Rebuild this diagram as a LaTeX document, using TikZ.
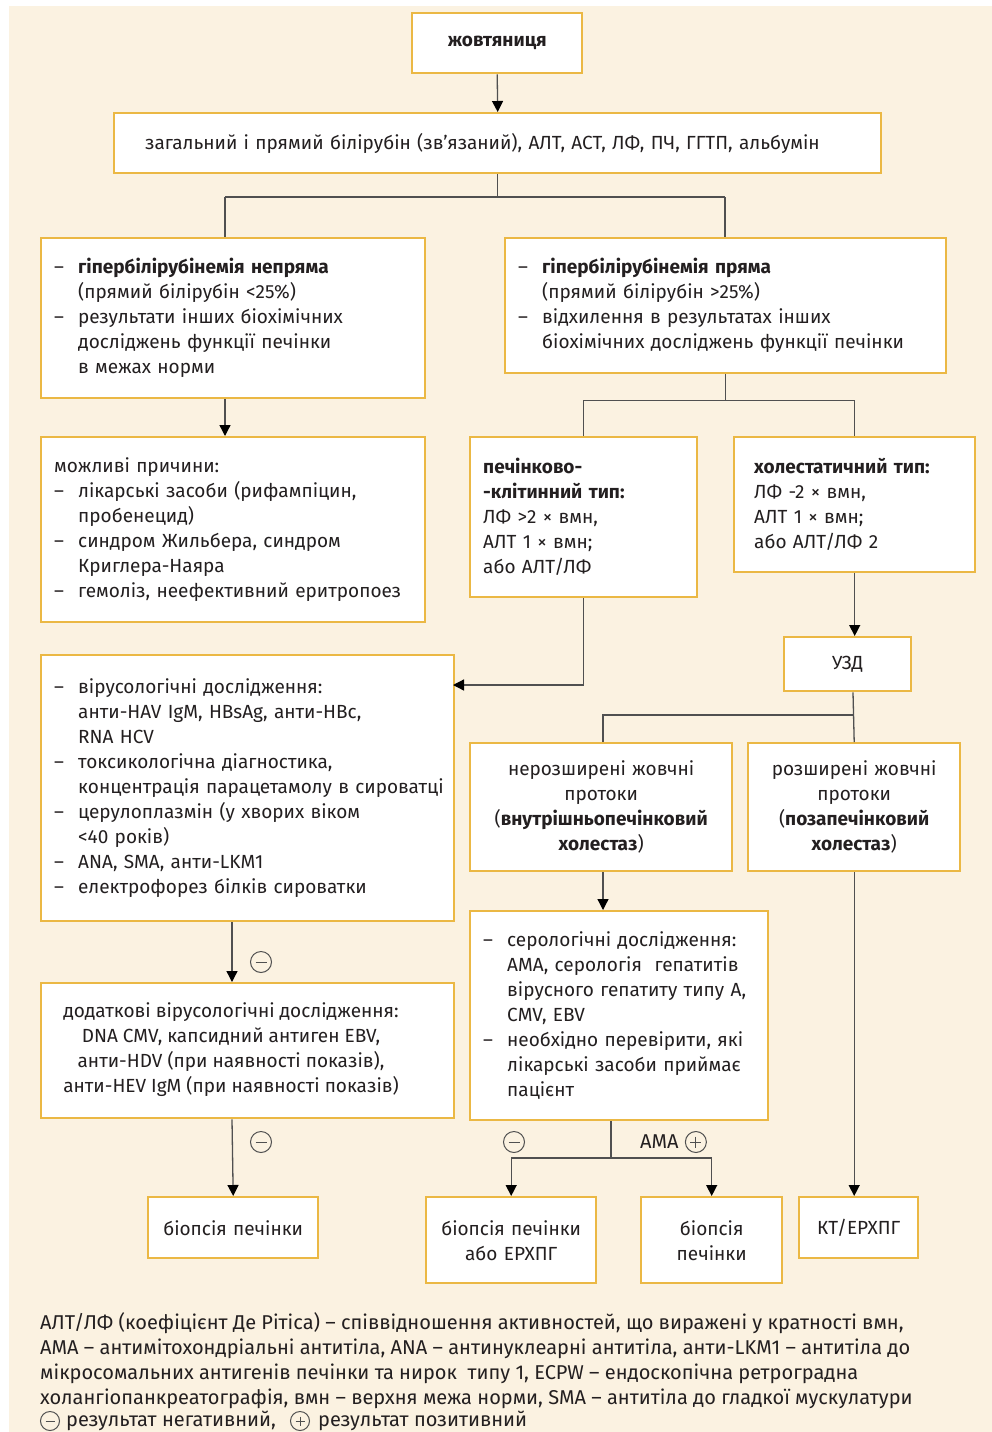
\documentclass[tikz,border=0pt]{standalone}
\usepackage{fontspec}
\setmainfont{Fira Sans}
\usetikzlibrary{arrows.meta, positioning}

\definecolor{boxedge}{HTML}{EBB844}
\definecolor{cream}{HTML}{FBF2E1}
\definecolor{linkgray}{HTML}{505050}
\definecolor{inkdark}{HTML}{231F20}

\newcommand{\dashline}{\makebox[24pt][l]{–}}
\newcommand{\dashgap}{\hspace*{24pt}}

\begin{document}
\begin{tikzpicture}[x = 1pt, y = -1pt, text = inkdark,
  box/.style = {draw = boxedge, line width = 2.4pt, fill = white, inner xsep = 13pt, inner ysep = 0pt,
                anchor = north west, font = \fontsize{19}{25}\selectfont},
  leftbox/.style = {box, align = left},
  midbox/.style = {box, align = center},
  link/.style = {draw = linkgray, line width = 1.3pt},
  arrow/.style = {link, -{Triangle[width = 11pt, length = 11pt, color = black]}},
  signminus/.style = {circle, draw = linkgray, line width = 1pt, minimum size = 21pt, inner sep = 0pt,
    path picture = {\draw[linkgray, line width = 1pt] ([xshift = 5pt]path picture bounding box.west)
                    -- ([xshift = -5pt]path picture bounding box.east);}},
  signplus/.style = {circle, draw = linkgray, line width = 1pt, minimum size = 21pt, inner sep = 0pt,
    path picture = {\draw[linkgray, line width = 1pt] ([xshift = 5pt]path picture bounding box.west)
                    -- ([xshift = -5pt]path picture bounding box.east);
                    \draw[linkgray, line width = 1pt] ([yshift = -5pt]path picture bounding box.north)
                    -- ([yshift = 5pt]path picture bounding box.south);}},
  note/.style = {inner sep = 0pt, font = \fontsize{20}{25}\selectfont}
]
\useasboundingbox (0, 0) rectangle (992, 1432);
\fill[white] (0, 0) rectangle (992, 1432);
\fill[cream] (9, 6) rectangle (992, 1432);

\node[midbox, text width = 144pt, minimum height = 60pt] (jaundice) at (411, 12){\textbf{жовтяниця}};
\node[leftbox, inner xsep = 31pt, text width = 705pt, minimum height = 60pt] (panel) at (113, 112)
  {загальний і прямий білірубін (зв’язаний), АЛТ, АСТ, ЛФ, ПЧ, ГГТП, альбумін};

\node[leftbox, text width = 358pt, minimum height = 160pt] (hypo) at (40, 237)
  {\dashline\textbf{гіпербілірубінемія непряма}\\
   \dashgap(прямий білірубін <25\%)\\
   \dashline результати інших біохімічних\\
   \dashgap досліджень функції печінки\\
   \dashgap в межах норми};
\node[leftbox, text width = 415pt, minimum height = 135pt] (hyper) at (504, 237)
  {\dashline\textbf{гіпербілірубінемія пряма}\\
   \dashgap(прямий білірубін >25\%)\\
   \dashline відхилення в результатах інших\\
   \dashgap біохімічних досліджень функції печінки};

\node[leftbox, text width = 358pt, minimum height = 185pt] (causes) at (40, 436)
  {можливі причини:\\
   \dashline лікарські засоби (рифампіцин,\\
   \dashgap пробенецид)\\
   \dashline синдром Жильбера, синдром\\
   \dashgap Криглера-Наяра\\
   \dashline гемоліз, неефективний еритропоез};
\node[leftbox, text width = 201pt, minimum height = 160pt] (hepato) at (469, 436)
  {\textbf{печінково-}\\
   \textbf{-клітинний тип:}\\
   ЛФ >2 × вмн,\\
   АЛТ 1 × вмн;\\
   або АЛТ/ЛФ};
\node[leftbox, inner xsep = 20pt, text width = 201pt, minimum height = 135pt] (chole) at (733, 436)
  {\textbf{холестатичний тип:}\\
   ЛФ -2 × вмн,\\
   АЛТ 1 × вмн;\\
   або АЛТ/ЛФ 2};
\node[midbox, text width = 101pt, minimum height = 54pt] (usg) at (783, 636){УЗД};

\node[leftbox, text width = 387pt, minimum height = 266pt] (viral) at (40, 654)
  {\dashline вірусологічні дослідження:\\
   \dashgap анти-HAV IgM, HBsAg, анти-HBc,\\
   \dashgap RNA HCV\\
   \dashline токсикологічна діагностика,\\
   \dashgap\mbox{концентрація парацетамолу в сироватці}\\
   \dashline церулоплазмін (у хворих віком\\
   \dashgap <40 років)\\
   \dashline ANA, SMA, анти-LKM1\\
   \dashline електрофорез білків сироватки};
\node[midbox, inner xsep = 5pt, text width = 252pt, minimum height = 128pt] (nondil) at (469, 742)
  {нерозширені жовчні\\
   протоки\\
   (\textbf{внутрішньопечінковий}\\
   \textbf{холестаз})};
\node[midbox, inner xsep = 5pt, text width = 202pt, minimum height = 128pt] (dil) at (747, 742)
  {розширені жовчні\\
   протоки\\
   (\textbf{позапечінковий}\\
   \textbf{холестаз})};

\node[leftbox, text width = 272pt, minimum height = 209pt] (sero) at (469, 910)
  {\dashline серологічні дослідження:\\
   \dashgap AMA, серологія\ \ гепатитів\\
   \dashgap вірусного гепатиту типу A,\\
   \dashgap CMV, EBV\\
   \dashline необхідно перевірити, які\\
   \dashgap лікарські засоби приймає\\
   \dashgap пацієнт};
\node[box, minimum width = 413pt, minimum height = 135pt] (extra) at (40, 982){};
\node[align = center, inner sep = 0pt, font = \fontsize{19}{25}\selectfont] (extratext) at (231, 1049.5)
  {додаткові вірусологічні дослідження:\\
   DNA CMV, капсидний антиген EBV,\\
   анти-HDV (при наявності показів),\\
   анти-HEV IgM (при наявності показів)};

\node[midbox, inner xsep = 5pt, text width = 160pt, minimum height = 61pt] (biopsyA) at (147, 1196){біопсія печінки};
\node[midbox, inner xsep = 5pt, text width = 160pt, minimum height = 86pt] (biopsyB) at (425, 1196)
  {біопсія печінки\\ або ЕРХПГ};
\node[midbox, inner xsep = 5pt, text width = 131pt, minimum height = 86pt] (biopsyC) at (640, 1196)
  {біопсія\\ печінки};
\node[midbox, inner xsep = 5pt, text width = 109pt, minimum height = 61pt] (ctercp) at (798, 1196){КТ/ЕРХПГ};

\coordinate (forkL) at (225, 197);
\coordinate (forkR) at (725, 197);
\coordinate (viralIn) at (453, 685);
\coordinate (usgFork) at (853, 715);
\coordinate (colA) at (232, 0);
\coordinate (colB) at (603, 0);
\coordinate (seroFork) at (611, 1158);

\draw[arrow] (jaundice.south) -- (panel.north);
\draw[link] (forkL) -- (forkR);
\draw[link] (panel.south) -- (panel.south |- forkL);
\draw[link] (forkL) -- (forkL |- hypo.north);
\draw[link] (forkR) -- (forkR |- hyper.north);
\draw[arrow] (forkL |- hypo.south) -- (forkL |- causes.north);
\draw[link] (hyper.south) -- ++(0, 26) -| (hepato.north);
\draw[link] (hyper.south) -- ++(0, 26) -| (chole.north);
\draw[arrow] (hepato.south) |- (viralIn);
\draw[arrow] (chole.south) -- (chole.south |- usg.north);
\draw[link] (usgFork |- usg.south) -- (dil.north);
\draw[link] (usgFork) -| (colB |- nondil.north);
\draw[arrow] (colB |- nondil.south) -- (colB |- sero.north);
\draw[arrow] (colA |- viral.south) -- (colA |- extra.north);
\draw[arrow] (colA |- extra.south) -- (biopsyA.north);
\draw[link] (seroFork |- sero.south) -- (seroFork);
\draw[arrow] (seroFork) -| (biopsyB.north);
\draw[arrow] (seroFork) -| (biopsyC.north);
\draw[arrow] (dil.south) -- (dil.south |- ctercp.north);

\node[signminus] (negA) at (261, 962){};
\node[signminus] (negB) at (261, 1142){};
\node[signminus] (negC) at (514, 1142){};
\node[note, anchor = west] (ama) at (640, 1142){AMA};
\node[signplus, right = 6pt of ama] (posA){};

\node[note, anchor = north west, align = left] (notes) at (40, 1312)
  {АЛТ/ЛФ (коефіцієнт Де Рітіса) – співвідношення активностей, що виражені у кратності вмн,\\
   AMA – антимітохондріальні антитіла, ANA – антинуклеарні антитіла, анти-LKM1 – антитіла до\\
   мікросомальних антигенів печінки та нирок\ \ типу 1, ECPW – ендоскопічна ретроградна\\
   холангіопанкреатографія, вмн – верхня межа норми, SMA – антитіла до гладкої мускулатури};
\node[signminus, minimum size = 19pt] (noteNeg) at (50, 1421){};
\node[note, anchor = west] (noteNegText) at (66, 1421){результат негативний,};
\node[signplus, minimum size = 19pt] (notePos) at (300, 1421){};
\node[note, anchor = west] (notePosText) at (318, 1421){результат позитивний};
\end{tikzpicture}
\end{document}
